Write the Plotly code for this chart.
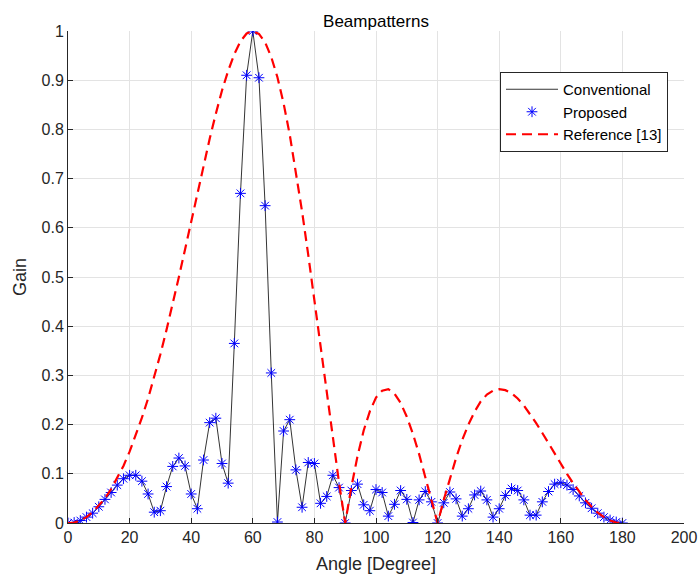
import plotly.graph_objects as go

angles = list(range(0, 181, 2))

gain_conventional = [
    0.000, 0.001, 0.005, 0.012, 0.020, 0.033, 0.048, 0.062, 0.077, 0.090,
    0.097, 0.097, 0.085, 0.059, 0.022, 0.025, 0.074, 0.115, 0.132, 0.116,
    0.059, 0.029, 0.128, 0.204, 0.213, 0.121, 0.081, 0.365, 0.670, 0.910,
    1.000, 0.905, 0.645, 0.305, 0.002, 0.187, 0.210, 0.108, 0.032, 0.123,
    0.121, 0.040, 0.054, 0.097, 0.072, 0.000, 0.066, 0.079, 0.037, 0.025,
    0.068, 0.062, 0.014, 0.038, 0.066, 0.048, 0.001, 0.047, 0.064, 0.043,
    0.000, 0.041, 0.063, 0.049, 0.014, 0.029, 0.057, 0.065, 0.047, 0.012,
    0.029, 0.056, 0.070, 0.066, 0.047, 0.016, 0.016, 0.043, 0.064, 0.079,
    0.082, 0.077, 0.068, 0.055, 0.041, 0.030, 0.020, 0.012, 0.006, 0.002,
    0.000,
]

gain_proposed = list(gain_conventional)

gain_reference = [
    0.000, 0.001, 0.005, 0.012, 0.022, 0.035, 0.050, 0.069, 0.091, 0.116,
    0.145, 0.178, 0.214, 0.253, 0.296, 0.343, 0.393, 0.445, 0.500, 0.556,
    0.613, 0.670, 0.727, 0.781, 0.832, 0.879, 0.919, 0.953, 0.979, 0.995,
    1.000, 0.994, 0.977, 0.947, 0.906, 0.853, 0.789, 0.715, 0.633, 0.545,
    0.452, 0.357, 0.262, 0.170, 0.082, 0.000, 0.073, 0.136, 0.188, 0.227,
    0.255, 0.269, 0.272, 0.263, 0.244, 0.216, 0.181, 0.140, 0.095, 0.048,
    0.000, 0.047, 0.091, 0.132, 0.169, 0.200, 0.226, 0.247, 0.261, 0.269,
    0.272, 0.270, 0.264, 0.253, 0.239, 0.222, 0.203, 0.183, 0.162, 0.141,
    0.120, 0.100, 0.081, 0.063, 0.047, 0.033, 0.021, 0.012, 0.005, 0.001,
    0.000,
]

x_ticks = list(range(0, 201, 20))
y_ticks = [i / 10 for i in range(0, 11)]
y_tick_labels = ["0", "0.1", "0.2", "0.3", "0.4", "0.5", "0.6", "0.7", "0.8", "0.9", "1"]

FONT = "Liberation Sans, Arial, sans-serif"

fig = go.Figure()
fig.add_trace(go.Scatter(
    x=angles, y=gain_conventional, mode="lines", name="Conventional",
    line=dict(color="black", width=0.8),
))
fig.add_trace(go.Scatter(
    x=angles, y=gain_proposed, mode="markers", name="Proposed",
    marker=dict(symbol="asterisk-open", size=9, color="blue",
                line=dict(color="blue", width=1)),
))
fig.add_trace(go.Scatter(
    x=angles, y=gain_reference, mode="lines", name="Reference [13]",
    line=dict(color="red", width=2.2, dash="10px,6px"),
))

axis_common = dict(
    showgrid=True, gridcolor="#e3e3e3", gridwidth=1,
    showline=True, linecolor="#262626", linewidth=1,
    ticks="inside", ticklen=5, tickcolor="#262626",
    zeroline=False, mirror=False, automargin=False,
    tickfont=dict(family=FONT, size=16, color="#262626"),
)

fig.update_layout(
    width=699, height=577,
    margin=dict(l=68, r=15, t=31, b=54),
    paper_bgcolor="white", plot_bgcolor="white",
    font=dict(family=FONT, color="#262626"),
    title=dict(text="Beampatterns", x=(68 + 308) / 699, xanchor="center",
               y=1 - 21 / 577, yanchor="middle",
               font=dict(family=FONT, size=17, color="black")),
    showlegend=True,
    legend=dict(
        x=(500 - 68) / 616, y=(523 - 72) / 492, xanchor="left", yanchor="top",
        bgcolor="white", bordercolor="#262626", borderwidth=1,
        font=dict(family=FONT, size=15, color="black"),
        itemwidth=52, tracegroupgap=0,
    ),
    xaxis=dict(range=[0, 200], tickvals=x_ticks,
               title=dict(text="Angle [Degree]", standoff=12,
                          font=dict(family=FONT, size=18, color="#262626")),
               **axis_common),
    yaxis=dict(range=[0, 1], tickvals=y_ticks, ticktext=y_tick_labels,
               title=dict(text="Gain", standoff=10,
                          font=dict(family=FONT, size=18, color="#262626")),
               **axis_common),
)

fig.write_html("out.html")
